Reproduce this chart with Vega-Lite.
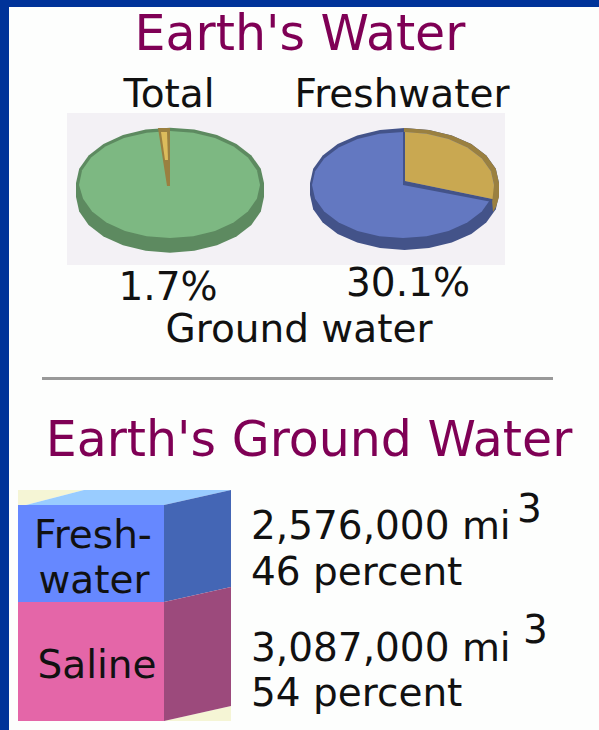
{"$schema":"https://vega.github.io/schema/vega-lite/v6.json","width":599,"height":730,"padding":0,"autosize":{"type":"fit","contains":"padding"},"background":"#fdfefd","view":{"stroke":null},
"datasets":{
"shapes":[
{"part":"frame top","n":0,"x":0,"y":0},{"part":"frame top","n":1,"x":599,"y":0},{"part":"frame top","n":2,"x":599,"y":7},{"part":"frame top","n":3,"x":0,"y":7},
{"part":"frame left","n":0,"x":0,"y":0},{"part":"frame left","n":1,"x":9,"y":0},{"part":"frame left","n":2,"x":9,"y":730},{"part":"frame left","n":3,"x":0,"y":730},
{"part":"panel","n":0,"x":67,"y":113},{"part":"panel","n":1,"x":505,"y":113},{"part":"panel","n":2,"x":505,"y":265},{"part":"panel","n":3,"x":67,"y":265},
{"part":"total side","n":0,"x":264,"y":197},{"part":"total side","n":1,"x":260.8,"y":211.4},{"part":"total side","n":2,"x":251.4,"y":224.9},{"part":"total side","n":3,"x":236.5,"y":236.4},{"part":"total side","n":4,"x":217,"y":245.2},{"part":"total side","n":5,"x":194.3,"y":250.8},{"part":"total side","n":6,"x":170,"y":252.7},{"part":"total side","n":7,"x":145.7,"y":250.8},{"part":"total side","n":8,"x":123,"y":245.2},{"part":"total side","n":9,"x":103.5,"y":236.4},{"part":"total side","n":10,"x":88.6,"y":224.9},{"part":"total side","n":11,"x":79.2,"y":211.4},{"part":"total side","n":12,"x":76,"y":197},{"part":"total side","n":13,"x":76,"y":183},{"part":"total side","n":14,"x":79.2,"y":168.7},{"part":"total side","n":15,"x":88.6,"y":155.4},{"part":"total side","n":16,"x":103.5,"y":143.9},{"part":"total side","n":17,"x":123,"y":135.1},{"part":"total side","n":18,"x":145.7,"y":129.6},{"part":"total side","n":19,"x":170,"y":127.7},{"part":"total side","n":20,"x":194.3,"y":129.6},{"part":"total side","n":21,"x":217,"y":135.1},{"part":"total side","n":22,"x":236.5,"y":143.9},{"part":"total side","n":23,"x":251.4,"y":155.4},{"part":"total side","n":24,"x":260.8,"y":168.7},{"part":"total side","n":25,"x":264,"y":183},
{"part":"total top","n":0,"x":260,"y":185},{"part":"total top","n":1,"x":256.9,"y":198.7},{"part":"total top","n":2,"x":247.9,"y":211.5},{"part":"total top","n":3,"x":233.6,"y":222.5},{"part":"total top","n":4,"x":215,"y":230.9},{"part":"total top","n":5,"x":193.3,"y":236.2},{"part":"total top","n":6,"x":170,"y":238},{"part":"total top","n":7,"x":146.7,"y":236.2},{"part":"total top","n":8,"x":125,"y":230.9},{"part":"total top","n":9,"x":106.4,"y":222.5},{"part":"total top","n":10,"x":92.1,"y":211.5},{"part":"total top","n":11,"x":83.1,"y":198.7},{"part":"total top","n":12,"x":79,"y":185},{"part":"total top","n":13,"x":82.1,"y":170.3},{"part":"total top","n":14,"x":91.1,"y":157.5},{"part":"total top","n":15,"x":105.4,"y":146.5},{"part":"total top","n":16,"x":124,"y":138.1},{"part":"total top","n":17,"x":146.7,"y":132.8},{"part":"total top","n":18,"x":170,"y":131},{"part":"total top","n":19,"x":193.3,"y":132.8},{"part":"total top","n":20,"x":215,"y":138.1},{"part":"total top","n":21,"x":233.6,"y":146.5},{"part":"total top","n":22,"x":247.9,"y":157.5},{"part":"total top","n":23,"x":256.9,"y":170.3},
{"part":"total wedge side","n":0,"x":158,"y":128},{"part":"total wedge side","n":1,"x":170,"y":128},{"part":"total wedge side","n":2,"x":170,"y":186},{"part":"total wedge side","n":3,"x":167,"y":186},
{"part":"total wedge top","n":0,"x":161,"y":132},{"part":"total wedge top","n":1,"x":167,"y":132},{"part":"total wedge top","n":2,"x":168,"y":160},{"part":"total wedge top","n":3,"x":165,"y":160},
{"part":"fresh side","n":0,"x":499,"y":195},{"part":"fresh side","n":1,"x":495.8,"y":209.2},{"part":"fresh side","n":2,"x":486.3,"y":222.5},{"part":"fresh side","n":3,"x":471.3,"y":233.9},{"part":"fresh side","n":4,"x":451.8,"y":242.6},{"part":"fresh side","n":5,"x":429,"y":248.1},{"part":"fresh side","n":6,"x":404.5,"y":250},{"part":"fresh side","n":7,"x":380,"y":248.1},{"part":"fresh side","n":8,"x":357.2,"y":242.6},{"part":"fresh side","n":9,"x":337.7,"y":233.9},{"part":"fresh side","n":10,"x":322.7,"y":222.5},{"part":"fresh side","n":11,"x":313.2,"y":209.2},{"part":"fresh side","n":12,"x":310,"y":195},{"part":"fresh side","n":13,"x":310,"y":183},{"part":"fresh side","n":14,"x":313.2,"y":168.8},{"part":"fresh side","n":15,"x":322.7,"y":155.5},{"part":"fresh side","n":16,"x":337.7,"y":144.1},{"part":"fresh side","n":17,"x":357.2,"y":135.4},{"part":"fresh side","n":18,"x":380,"y":129.9},{"part":"fresh side","n":19,"x":404.5,"y":128},{"part":"fresh side","n":20,"x":429,"y":129.9},{"part":"fresh side","n":21,"x":451.8,"y":135.4},{"part":"fresh side","n":22,"x":471.3,"y":144.1},{"part":"fresh side","n":23,"x":486.3,"y":155.5},{"part":"fresh side","n":24,"x":495.8,"y":168.8},{"part":"fresh side","n":25,"x":499,"y":183},
{"part":"ground side","n":0,"x":404,"y":128},{"part":"ground side","n":1,"x":429,"y":129.9},{"part":"ground side","n":2,"x":451.8,"y":135.4},{"part":"ground side","n":3,"x":471.3,"y":144.1},{"part":"ground side","n":4,"x":486.3,"y":155.5},{"part":"ground side","n":5,"x":495.8,"y":168.8},{"part":"ground side","n":6,"x":499,"y":183},{"part":"ground side","n":7,"x":499,"y":197},{"part":"ground side","n":8,"x":496,"y":207},{"part":"ground side","n":9,"x":493,"y":212},{"part":"ground side","n":10,"x":492,"y":200},{"part":"ground side","n":11,"x":404,"y":185},
{"part":"fresh top","n":0,"x":494,"y":185},{"part":"fresh top","n":1,"x":490.9,"y":198.7},{"part":"fresh top","n":2,"x":481.8,"y":211.5},{"part":"fresh top","n":3,"x":467.3,"y":222.5},{"part":"fresh top","n":4,"x":448.5,"y":230.9},{"part":"fresh top","n":5,"x":426.6,"y":236.2},{"part":"fresh top","n":6,"x":403,"y":238},{"part":"fresh top","n":7,"x":379.4,"y":236.2},{"part":"fresh top","n":8,"x":357.5,"y":230.9},{"part":"fresh top","n":9,"x":338.7,"y":222.5},{"part":"fresh top","n":10,"x":324.2,"y":211.5},{"part":"fresh top","n":11,"x":315.1,"y":198.7},{"part":"fresh top","n":12,"x":312,"y":185},{"part":"fresh top","n":13,"x":315.1,"y":171.3},{"part":"fresh top","n":14,"x":324.2,"y":158.5},{"part":"fresh top","n":15,"x":338.7,"y":147.5},{"part":"fresh top","n":16,"x":357.5,"y":139.1},{"part":"fresh top","n":17,"x":379.4,"y":133.8},{"part":"fresh top","n":18,"x":403,"y":132},{"part":"fresh top","n":19,"x":426.6,"y":133.8},{"part":"fresh top","n":20,"x":448.5,"y":139.1},{"part":"fresh top","n":21,"x":467.3,"y":147.5},{"part":"fresh top","n":22,"x":481.8,"y":158.5},{"part":"fresh top","n":23,"x":490.9,"y":171.3},
{"part":"fresh edge","n":0,"x":403,"y":132},{"part":"fresh edge","n":1,"x":405,"y":132},{"part":"fresh edge","n":2,"x":405,"y":181},{"part":"fresh edge","n":3,"x":492.5,"y":199},{"part":"fresh edge","n":4,"x":492,"y":202},{"part":"fresh edge","n":5,"x":403,"y":185},
{"part":"ground top","n":0,"x":405,"y":132},{"part":"ground top","n":1,"x":426.6,"y":133.8},{"part":"ground top","n":2,"x":448.5,"y":139.1},{"part":"ground top","n":3,"x":467.3,"y":147.5},{"part":"ground top","n":4,"x":481.8,"y":158.5},{"part":"ground top","n":5,"x":490.9,"y":171.3},{"part":"ground top","n":6,"x":494,"y":185},{"part":"ground top","n":7,"x":492.5,"y":199},{"part":"ground top","n":8,"x":405,"y":181},
{"part":"divider","n":0,"x":42,"y":377},{"part":"divider","n":1,"x":553,"y":377},{"part":"divider","n":2,"x":553,"y":380},{"part":"divider","n":3,"x":42,"y":380},
{"part":"corner top","n":0,"x":18,"y":490},{"part":"corner top","n":1,"x":84,"y":490},{"part":"corner top","n":2,"x":26,"y":505},{"part":"corner top","n":3,"x":18,"y":505},
{"part":"corner bottom","n":0,"x":164,"y":721},{"part":"corner bottom","n":1,"x":231,"y":706},{"part":"corner bottom","n":2,"x":231,"y":721},
{"part":"lid","n":0,"x":26,"y":505},{"part":"lid","n":1,"x":164,"y":505},{"part":"lid","n":2,"x":231,"y":490},{"part":"lid","n":3,"x":84,"y":490},
{"part":"freshwater front","n":0,"x":18,"y":505},{"part":"freshwater front","n":1,"x":164,"y":505},{"part":"freshwater front","n":2,"x":164,"y":602},{"part":"freshwater front","n":3,"x":18,"y":602},
{"part":"freshwater side","n":0,"x":164,"y":505},{"part":"freshwater side","n":1,"x":231,"y":490},{"part":"freshwater side","n":2,"x":231,"y":587},{"part":"freshwater side","n":3,"x":164,"y":602},
{"part":"saline front","n":0,"x":18,"y":602},{"part":"saline front","n":1,"x":164,"y":602},{"part":"saline front","n":2,"x":164,"y":721},{"part":"saline front","n":3,"x":18,"y":721},
{"part":"saline side","n":0,"x":164,"y":602},{"part":"saline side","n":1,"x":231,"y":587},{"part":"saline side","n":2,"x":231,"y":706},{"part":"saline side","n":3,"x":164,"y":721}
],
"titles":[
{"text":"Earth's Water","x":300,"y":50},
{"text":"Earth's Ground Water","x":309,"y":456}
],
"labels":[
{"text":"Total","x":169,"y":107},
{"text":"Freshwater","x":402,"y":107},
{"text":"1.7%","x":168,"y":300},
{"text":"30.1%","x":408,"y":296},
{"text":"Ground water","x":299,"y":342},
{"text":"Fresh-","x":93,"y":548},
{"text":"water","x":94,"y":593},
{"text":"Saline","x":97,"y":678}
],
"figures":[
{"text":"2,576,000 mi","x":251,"y":539},
{"text":"3","x":517,"y":522},
{"text":"46 percent","x":251,"y":585},
{"text":"3,087,000 mi","x":251,"y":661},
{"text":"3","x":523,"y":643},
{"text":"54 percent","x":251,"y":706}
]},
"encoding":{
"x":{"field":"x","type":"quantitative","scale":{"domain":[0,599],"nice":false,"zero":false},"axis":null},
"y":{"field":"y","type":"quantitative","scale":{"domain":[0,730],"reverse":true,"nice":false,"zero":false},"axis":null}
},
"layer":[
{"data":{"name":"shapes"},"mark":{"type":"line","interpolate":"linear-closed","strokeWidth":0},
"encoding":{"order":{"field":"n","type":"quantitative"},
"fill":{"field":"part","type":"nominal","legend":null,"sort":null,"scale":{
"domain":["frame top","frame left","panel","total side","total top","total wedge side","total wedge top","fresh side","ground side","fresh top","fresh edge","ground top","divider","corner top","corner bottom","lid","freshwater front","freshwater side","saline front","saline side"],
"range":["#003399","#003399","#f3f1f5","#5d8a60","#7db882","#9a8040","#dcbc5c","#435389","#9a8040","#6378c1","#435389","#c9a851","#999999","#f5f5d5","#f5f5d5","#99ccff","#6688ff","#4466b5","#e466a8","#9c4a7c"]}}}},
{"data":{"name":"titles"},"mark":{"type":"text","font":"DejaVu Sans","fontSize":49,"color":"#7f0055","align":"center","baseline":"alphabetic"},"encoding":{"text":{"field":"text"}}},
{"data":{"name":"labels"},"mark":{"type":"text","font":"DejaVu Sans","fontSize":39,"color":"#111111","align":"center","baseline":"alphabetic"},"encoding":{"text":{"field":"text"}}},
{"data":{"name":"figures"},"mark":{"type":"text","font":"DejaVu Sans","fontSize":39,"color":"#111111","align":"left","baseline":"alphabetic"},"encoding":{"text":{"field":"text"}}}
]}
